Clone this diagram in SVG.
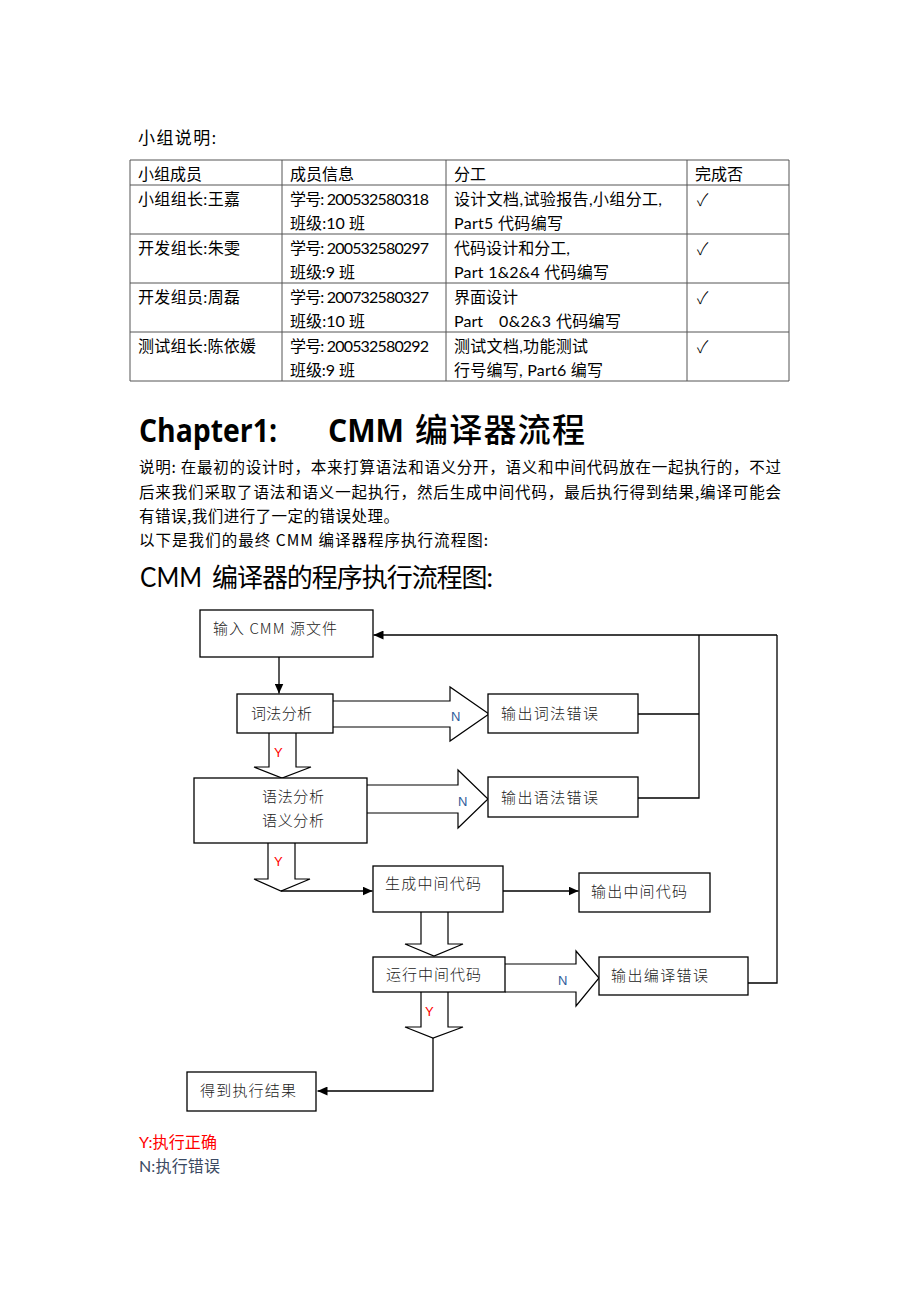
<svg xmlns="http://www.w3.org/2000/svg" width="920" height="1302" viewBox="0 0 920 1302">
<style>
.t{font-family:"Lato","Noto Sans CJK SC",sans-serif;font-size:16px;fill:#000}
.p{font-family:"Noto Sans CJK SC",sans-serif;font-size:15.5px;fill:#000}
.h1{font-family:"Open Sans","Noto Sans CJK SC",sans-serif;font-size:33px;font-weight:bold;fill:#000}
.h1c{font-family:"Noto Sans CJK SC",sans-serif;font-size:33px;font-weight:500;fill:#000}
.h2{font-family:"Lato","Noto Sans CJK SC",sans-serif;font-size:26px;fill:#000}
.ck{font-family:"Noto Sans CJK SC","DejaVu Sans",sans-serif;font-size:17px;font-weight:300;fill:#000}
.grid{stroke:#555;stroke-width:1;fill:none}
.box{fill:#fff;stroke:#000;stroke-width:1.3}
.bt{font-family:"Noto Sans CJK SC",sans-serif;font-size:15px;font-weight:300;fill:#222}
.blk{fill:#fff;stroke:#000;stroke-width:1.2}
.ln{fill:none;stroke:#000;stroke-width:1.3}
.lnA{fill:none;stroke:#000;stroke-width:1.3;marker-end:url(#ah)}
.yl{font-family:"Liberation Sans",sans-serif;font-size:13px;fill:#FF0000}
.nl{font-family:"Liberation Sans",sans-serif;font-size:13px;fill:#2E5C9A}
</style>
<defs>
<marker id="ah" markerUnits="userSpaceOnUse" markerWidth="10" markerHeight="9" refX="10" refY="4.5" orient="auto">
<path d="M0,0 L10,4.5 L0,9 z" fill="#000"/>
</marker>
</defs>
<rect width="920" height="1302" fill="#fff"/>

<g id="intro">
<text class="t" x="138" y="144" textLength="78" style="font-size:17px">小组说明:</text>
</g>

<g id="table">
<path class="grid" d="M130,160 H789 V381 H130 Z M130,185 H789 M130,234 H789 M130,283 H789 M130,332 H789 M282,160 V381 M446,160 V381 M687,160 V381"/>
<text class="t" x="138" y="180" textLength="64">小组成员</text>
<text class="t" x="290" y="180" textLength="64">成员信息</text>
<text class="t" x="454" y="180" textLength="32">分工</text>
<text class="t" x="695" y="180" textLength="48">完成否</text>

<text class="t" x="138" y="205" textLength="102">小组组长:王嘉</text>
<text class="t" x="290" y="205" textLength="139">学号: 200532580318</text>
<text class="t" x="290" y="229" textLength="75">班级:10 班</text>
<text class="t" x="454" y="205" textLength="208">设计文档,试验报告,小组分工,</text>
<text class="t" x="454" y="229" textLength="109">Part5 代码编写</text>
<text class="ck" x="697" y="206">✓</text>

<text class="t" x="138" y="254" textLength="102">开发组长:朱雯</text>
<text class="t" x="290" y="254" textLength="139">学号: 200532580297</text>
<text class="t" x="290" y="278" textLength="65">班级:9 班</text>
<text class="t" x="454" y="254" textLength="116">代码设计和分工,</text>
<text class="t" x="454" y="278" textLength="155">Part 1&amp;2&amp;4 代码编写</text>
<text class="ck" x="697" y="255">✓</text>

<text class="t" x="138" y="303" textLength="102">开发组员:周磊</text>
<text class="t" x="290" y="303" textLength="139">学号: 200732580327</text>
<text class="t" x="290" y="327" textLength="75">班级:10 班</text>
<text class="t" x="454" y="303" textLength="64">界面设计</text>
<text class="t" x="454" y="327" textLength="29">Part</text>
<text class="t" x="499" y="327" textLength="122">0&amp;2&amp;3 代码编写</text>
<text class="ck" x="697" y="304">✓</text>

<text class="t" x="138" y="352" textLength="118">测试组长:陈依媛</text>
<text class="t" x="290" y="352" textLength="139">学号: 200532580292</text>
<text class="t" x="290" y="376" textLength="65">班级:9 班</text>
<text class="t" x="454" y="352" textLength="134">测试文档,功能测试</text>
<text class="t" x="454" y="376" textLength="149">行号编写, Part6 编写</text>
<text class="ck" x="697" y="353">✓</text>
</g>

<g id="chapter">
<text class="h1" x="139" y="442" textLength="138" lengthAdjust="spacingAndGlyphs">Chapter1:</text>
<text class="h1" x="328" y="442" textLength="76" lengthAdjust="spacingAndGlyphs">CMM</text>
<text class="h1c" x="415" y="442" textLength="170">编译器流程</text>
<text class="p" x="139" y="473" textLength="642">说明: 在最初的设计时，本来打算语法和语义分开，语义和中间代码放在一起执行的，不过</text>
<text class="p" x="139" y="498" textLength="642">后来我们采取了语法和语义一起执行，然后生成中间代码，最后执行得到结果,编译可能会</text>
<text class="p" x="139" y="522" textLength="260">有错误,我们进行了一定的错误处理。</text>
<text class="p" x="139" y="546" textLength="349">以下是我们的最终 CMM 编译器程序执行流程图:</text>
<text class="h2" x="140" y="587" textLength="62" lengthAdjust="spacingAndGlyphs">CMM</text>
<text class="h2" x="212" y="587" textLength="281">编译器的程序执行流程图:</text>
</g>

<g id="connectors">
<line class="lnA" x1="279" y1="657" x2="279" y2="693.5"/>
<path class="blk" d="M333,701 H450 V687 L489,714 L450,741 V727 H333"/>
<path class="blk" d="M269,733 V767 H254 L282,778 L311,767 H296 V733"/>
<path class="blk" d="M367,785 H458 V770 L488,799 L458,828 V813 H367"/>
<path class="blk" d="M268,843 V879 H254 L281,891 L310,879 H295 V843"/>
<line class="lnA" x1="281" y1="891" x2="372.5" y2="891"/>
<line class="lnA" x1="503" y1="891" x2="578.5" y2="891"/>
<path class="blk" d="M421,912 V944 H405 L434,956 L463,944 H448 V912"/>
<path class="blk" d="M505,964 H576 V951 L599,978 L576,1006 V992 H505"/>
<path class="blk" d="M421,992 V1027 H405 L433,1038 L463,1027 H448 V992"/>
<polyline class="lnA" points="433,1038 433,1091 317.5,1091"/>
<polyline class="ln" points="638,714 699,714"/>
<polyline class="ln" points="638,798 699,798 699,635"/>
<polyline class="ln" points="748,983 777,983 777,635"/>
<line class="lnA" x1="777" y1="635" x2="373.5" y2="635"/>
<text class="nl" x="451" y="721">N</text>
<text class="yl" x="274" y="757">Y</text>
<text class="nl" x="458" y="806">N</text>
<text class="yl" x="274" y="866">Y</text>
<text class="nl" x="558" y="985">N</text>
<text class="yl" x="425" y="1016">Y</text>
</g>

<g id="n-input">
<rect class="box" x="200" y="610" width="173" height="47"/>
<text class="bt" x="213" y="634" textLength="124">输入 CMM 源文件</text>
</g>
<g id="n-lex">
<rect class="box" x="237" y="694" width="96" height="39"/>
<text class="bt" x="251" y="719" textLength="61">词法分析</text>
</g>
<g id="n-lexerr">
<rect class="box" x="488" y="694" width="150" height="39"/>
<text class="bt" x="501" y="719" textLength="97">输出词法错误</text>
</g>
<g id="n-syn">
<rect class="box" x="194" y="778" width="173" height="65"/>
<text class="bt" x="262" y="802" textLength="62">语法分析</text>
<text class="bt" x="262" y="826" textLength="62">语义分析</text>
</g>
<g id="n-synerr">
<rect class="box" x="488" y="777" width="150" height="40"/>
<text class="bt" x="501" y="803" textLength="97">输出语法错误</text>
</g>
<g id="n-gen">
<rect class="box" x="373" y="866" width="130" height="46"/>
<text class="bt" x="385" y="889" textLength="96">生成中间代码</text>
</g>
<g id="n-genout">
<rect class="box" x="579" y="873" width="131" height="39"/>
<text class="bt" x="591" y="897" textLength="96">输出中间代码</text>
</g>
<g id="n-run">
<rect class="box" x="373" y="957" width="132" height="35"/>
<text class="bt" x="386" y="980" textLength="95">运行中间代码</text>
</g>
<g id="n-runerr">
<rect class="box" x="599" y="957" width="149" height="38"/>
<text class="bt" x="611" y="981" textLength="97">输出编译错误</text>
</g>
<g id="n-result">
<rect class="box" x="187" y="1072" width="129" height="39"/>
<text class="bt" x="200" y="1096" textLength="96">得到执行结果</text>
</g>

<g id="legend">
<text class="t" x="139" y="1148" textLength="78" style="fill:#FF0000">Y:执行正确</text>
<text class="t" x="139" y="1172" textLength="81" style="fill:#3B4A63">N:执行错误</text>
</g>
</svg>
